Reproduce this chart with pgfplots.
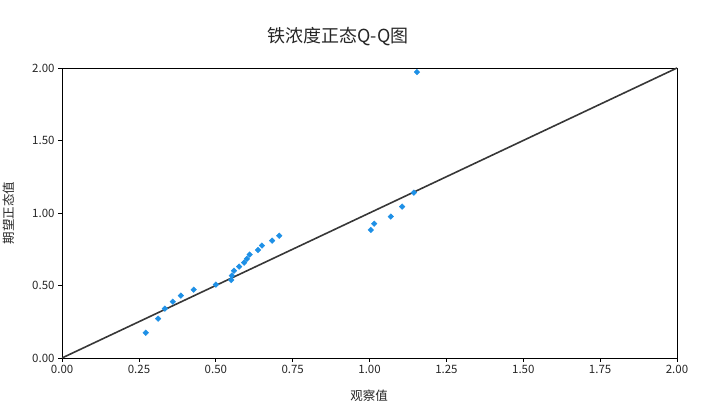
\documentclass[border=0pt]{standalone}
\usepackage{fontspec}
\setmainfont{Noto Sans CJK SC}
\usepackage{pgfplots}
\pgfplotsset{compat=1.18}
\definecolor{ptblue}{RGB}{30,144,230}
\definecolor{refline}{RGB}{55,55,55}
\begin{document}
\begin{tikzpicture}
\begin{axis}[
  scale only axis,
  width=615pt, height=290pt,
  xmin=0, xmax=2, ymin=0, ymax=2,
  xtick={0,0.25,...,2.0}, ytick={0,0.5,...,2.0},
  xticklabel style={/pgf/number format/.cd,fixed,fixed zerofill,precision=2},
  yticklabel style={/pgf/number format/.cd,fixed,fixed zerofill,precision=2},
  /pgf/number format/assume math mode=true,
  tick label style={font=\fontsize{11.5}{13}\selectfont, text=black!85},
  tick align=outside, tick pos=left,
  major tick length=4pt,
  axis line style={black, line width=0.8pt},
  every tick/.style={black, line width=0.8pt},
  xtick style={black}, ytick style={black},
  clip=false,
]
\coordinate (bl) at (rel axis cs:0,0);
\coordinate (tr) at (rel axis cs:1,1);
\addplot[refline, line width=1.6pt] coordinates {(0,0) (2,2)};
\addplot[only marks, mark=square*, mark size=2pt, mark options={rotate=45, fill=ptblue, draw=ptblue}] coordinates {
(0.272,0.174)
(0.312,0.271)
(0.334,0.340)
(0.360,0.388)
(0.386,0.430)
(0.428,0.471)
(0.500,0.506)
(0.550,0.538)
(0.552,0.568)
(0.559,0.602)
(0.576,0.630)
(0.592,0.657)
(0.601,0.683)
(0.610,0.713)
(0.637,0.745)
(0.650,0.775)
(0.683,0.809)
(0.706,0.843)
(1.004,0.883)
(1.015,0.926)
(1.069,0.975)
(1.106,1.044)
(1.144,1.140)
(1.154,1.972)
};
\end{axis}
\node[font=\fontsize{18}{20}\selectfont, text=black!85] at ([shift={(276pt,321pt)}]bl) {铁浓度正态Q-Q图};
\node[font=\fontsize{12.5}{14}\selectfont, text=black!85] at ([shift={(307pt,-38pt)}]bl) {观察值};
\node[font=\fontsize{12.5}{14}\selectfont, text=black!85, rotate=90] at ([shift={(-53pt,145pt)}]bl) {期望正态值};
\path ([shift={(-62pt,-58pt)}]bl) rectangle ([shift={(47pt,68pt)}]tr);
\end{tikzpicture}
\end{document}
